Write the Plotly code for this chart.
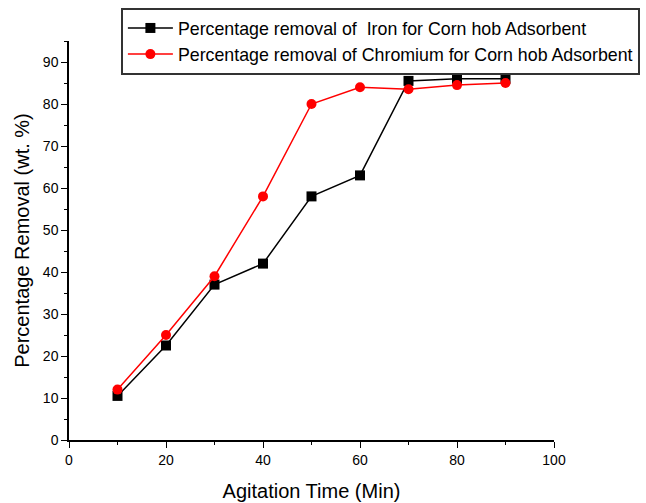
import plotly.graph_objects as go

# Agitation time (min) and percentage removal for each metal
time_min = [10, 20, 30, 40, 50, 60, 70, 80, 90]
iron_removal = [10.5, 22.5, 37, 42, 58, 63, 85.5, 86, 86]
chromium_removal = [12, 25, 39, 58, 80, 84, 83.5, 84.5, 85]

iron_name = "Percentage removal of  Iron for Corn hob Adsorbent"
chromium_name = "Percentage removal of Chromium for Corn hob Adsorbent"

FONT = "Liberation Sans, Arial"

fig = go.Figure()
fig.add_trace(go.Scatter(
    x=time_min, y=iron_removal, name=iron_name, mode="lines+markers",
    line=dict(color="black", width=1.5),
    marker=dict(symbol="square", size=10, color="black"),
))
fig.add_trace(go.Scatter(
    x=time_min, y=chromium_removal, name=chromium_name, mode="lines+markers",
    line=dict(color="red", width=1.5),
    marker=dict(symbol="circle", size=10, color="red"),
))

axis_common = dict(
    showline=True, linecolor="black", linewidth=1.5, mirror=False,
    ticks="outside", ticklen=6, tickwidth=1.2, tickcolor="black",
    showgrid=False, zeroline=False, automargin=False,
    tickfont=dict(family=FONT, size=14, color="black"),
    minor=dict(ticks="outside", ticklen=3, tickwidth=1.2, tickcolor="black"),
)

fig.update_layout(
    width=646, height=503,
    margin=dict(l=69, r=92, t=41, b=63, autoexpand=False),
    paper_bgcolor="white", plot_bgcolor="white",
    font=dict(family=FONT, color="black"),
    xaxis=dict(
        range=[0, 100], dtick=20, minor_dtick=10,
        title=dict(text="Agitation Time (Min)", font=dict(size=20), standoff=17),
        **axis_common,
    ),
    yaxis=dict(
        range=[0, 95], dtick=10, minor_dtick=5,
        title=dict(text="Percentage Removal (wt. %)", font=dict(size=20), standoff=8),
        **axis_common,
    ),
    legend=dict(
        x=0.107, y=1.083, xanchor="left", yanchor="top",
        bgcolor="white", bordercolor="#333", borderwidth=2,
        font=dict(family=FONT, size=17.8, color="black"),
        tracegroupgap=0, itemwidth=45,
    ),
    showlegend=True,
)

fig.write_html("out.html")
